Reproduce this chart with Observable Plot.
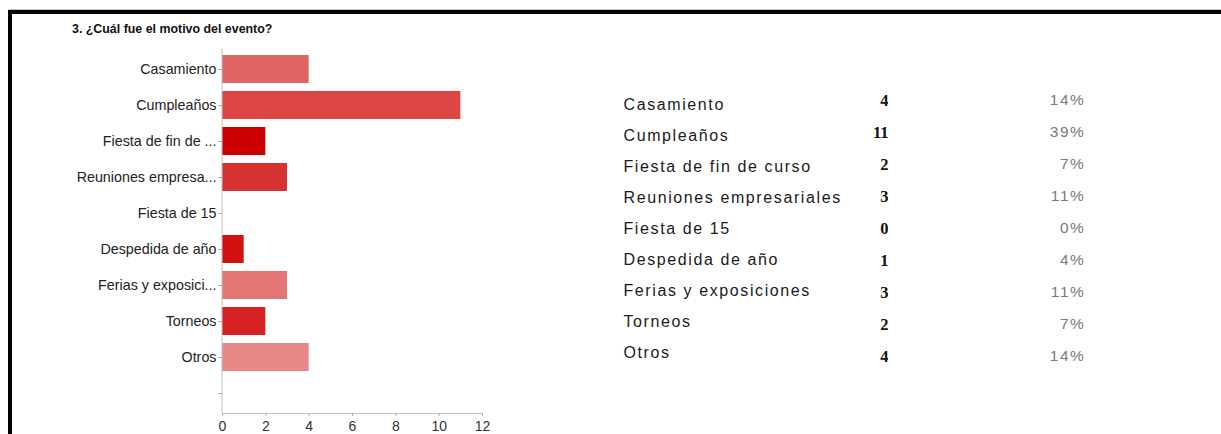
<!DOCTYPE html>
<html>
<head>
<meta charset="utf-8">
<script src="https://cdn.jsdelivr.net/npm/d3@7"></script>
<script src="https://cdn.jsdelivr.net/npm/@observablehq/plot@0.6"></script>
<style>
  html, body { margin: 0; padding: 0; background: #fff; width: 1221px; height: 434px; overflow: hidden; }
  #wrap { position: relative; width: 1221px; height: 434px; font-family: "Liberation Sans", Arial, sans-serif; }
  #greyline { position: absolute; left: 8px; top: 9px; width: 1300px; height: 1px; background: #c8c8c8; }
  #border { position: absolute; left: 8px; top: 10px; width: 1300px; height: 500px; border-top: 4px solid #000; border-left: 4px solid #000; }
  #title { position: absolute; left: 72px; top: 23px; font-size: 12.4px; line-height: 1; font-weight: bold; color: #111; white-space: nowrap; }
  svg { position: absolute; left: 0; top: 0; }
</style>
</head>
<body>
<div id="wrap">
  <div id="greyline"></div>
  <div id="border"></div>
  <div id="title">3. ¿Cuál fue el motivo del evento?</div>
</div>
<script>
const categories = ["Casamiento", "Cumpleaños", "Fiesta de fin de curso", "Reuniones empresariales", "Fiesta de 15", "Despedida de año", "Ferias y exposiciones", "Torneos", "Otros"];
const axisLabels = ["Casamiento", "Cumpleaños", "Fiesta de fin de ...", "Reuniones empresa...", "Fiesta de 15", "Despedida de año", "Ferias y exposici...", "Torneos", "Otros"];
const counts = [4, 11, 2, 3, 0, 1, 3, 2, 4];
const percents = ["14%", "39%", "7%", "11%", "0%", "4%", "11%", "7%", "14%"];
const xTicks = [0, 2, 4, 6, 8, 10, 12];
const barColors = ["#e06666", "#dd4444", "#cc0000", "#d63232", "#d94040", "#d41111", "#e47575", "#d62222", "#e88888"];
const blank = " ";

const rows = categories.map((c, i) => ({category: c, count: counts[i], percent: percents[i]}));
const labelMap = new Map(categories.map((c, i) => [c, axisLabels[i]]));
const wrap = document.getElementById("wrap");

const bars = Plot.plot({
  width: 500, height: 434,
  marginLeft: 222, marginRight: 18, marginTop: 49, marginBottom: 21,
  style: {fontFamily: "'Liberation Sans', Arial, sans-serif", background: "transparent", overflow: "visible"},
  x: {domain: [0, 12]},
  y: {domain: [...categories, blank], paddingInner: 0.22, paddingOuter: 0.11},
  color: {domain: categories, range: barColors},
  marks: [
    Plot.barX(rows, {x: "count", y: "category", fill: "category"}),
    Plot.ruleX([0], {stroke: "#c0c0c0", dx: -0.5}),
    Plot.frame({anchor: "bottom", stroke: "#c0c0c0"}),
    Plot.axisY({tickSize: 4, tickPadding: 2, stroke: "#b0b0b0", fill: "#222", fontSize: 14.3, label: null, tickFormat: d => labelMap.get(d) ?? ""}),
    Plot.axisX({ticks: xTicks, tickSize: 3, tickPadding: 5, stroke: "#b0b0b0", fill: "#333", fontSize: 14, label: null})
  ]
});
wrap.appendChild(bars);

// Table: label column (left-anchored at the plot's left margin)
const tableLabels = Plot.plot({
  width: 1221, height: 434, marginLeft: 623, marginRight: 0, marginTop: 0, marginBottom: 0,
  style: {fontFamily: "'Liberation Sans', Arial, sans-serif", background: "transparent", letterSpacing: "1.6px"},
  y: {type: "point", domain: categories, range: [101.3, 353.8], padding: 0, axis: null},
  marks: [
    Plot.text(rows, {y: "category", text: "category", frameAnchor: "left", textAnchor: "start", fontSize: 16, fill: "#1a1a1a"})
  ]
});
wrap.appendChild(tableLabels);

// Table: count column (right-anchored)
const tableCounts = Plot.plot({
  width: 888, height: 434, margin: 0,
  style: {fontFamily: "'Liberation Serif', 'Times New Roman', serif", background: "transparent"},
  y: {type: "point", domain: categories, range: [98.3, 358.7], padding: 0, axis: null},
  marks: [
    Plot.text(rows, {y: "category", text: d => String(d.count), frameAnchor: "right", textAnchor: "end", fontSize: 16.5, fontWeight: "bold", fill: "#111"})
  ]
});
wrap.appendChild(tableCounts);

// Table: percent column (right-anchored)
const tablePct = Plot.plot({
  width: 1085, height: 434, margin: 0,
  style: {fontFamily: "'Liberation Sans', Arial, sans-serif", background: "transparent", letterSpacing: "1.6px"},
  y: {type: "point", domain: categories, range: [98.3, 358.7], padding: 0, axis: null},
  marks: [
    Plot.text(rows, {y: "category", text: "percent", frameAnchor: "right", textAnchor: "end", fontSize: 15.5, fill: "#7a7a7a"})
  ]
});
wrap.appendChild(tablePct);
</script>
</body>
</html>
